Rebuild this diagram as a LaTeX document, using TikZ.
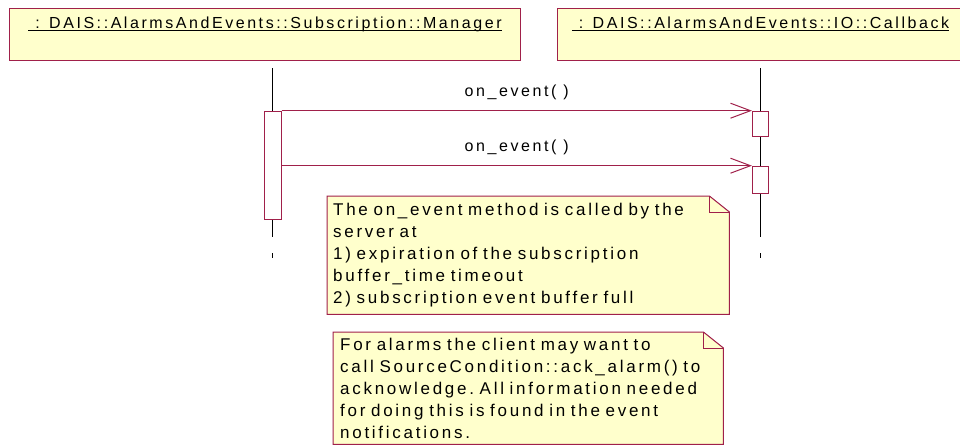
\documentclass[tikz,border=0pt]{standalone}
\usepackage{fontspec}
\newfontfamily\rosefont[LetterSpace=16]{Liberation Sans}
\usetikzlibrary{arrows.meta}
\definecolor{roseline}{HTML}{A0204A}
\definecolor{notefill}{HTML}{FFFFCC}
\newsavebox\namebox
\newcommand{\objname}[1]{\sbox\namebox{#1}\rlap{\rule[-3pt]{\wd\namebox}{0.9pt}}\usebox\namebox}

\begin{document}
\begin{tikzpicture}[
  x=1pt, y=-1pt,
  every node/.style={font=\rosefont\fontsize{16}{22}\selectfont, text=black},
  objbox/.style={draw=roseline, fill=notefill, line width=1pt, inner sep=0pt, text height=19.7pt, text depth=32.3pt, anchor=north west},
  actbar/.style={draw=roseline, fill=white, line width=0.8pt, inner sep=0pt, minimum width=17pt, anchor=north},
  notebox/.style={fill=notefill, inner ysep=0pt, align=left, anchor=north west, font=\rosefont\fontsize{17}{22}\selectfont\frenchspacing},
  noteline/.style={roseline, line width=1pt, line join=miter},
  lifeline/.style={black, line width=0.9pt},
  msg/.style={roseline, line width=1pt, -{Straight Barb[length=20pt, width=15pt]}},
  msglabel/.style={anchor=base, yshift=14.5pt},
]

\useasboundingbox (0,0) rectangle (960,445);
\clip (0,0) rectangle (960,445);

% Objects
\node[objbox, minimum width=511pt] (mgr) at (9,8) {\objname{\ : DAIS::AlarmsAndEvents::Subscription::Manager}};
\node[objbox, minimum width=406pt] (cb) at (557,8) {\objname{\ : DAIS::AlarmsAndEvents::IO::Callback}};

% Lifelines
\coordinate (mgrtop) at (272,68);
\coordinate (mgrend) at (272,237);
\coordinate (mgrtick) at (272,253);
\coordinate (cbtop) at (760.3,68);
\coordinate (cbend) at (760.3,237);
\coordinate (cbtick) at (760.3,253);
\draw[lifeline] (mgrtop) -- (mgrend);
\draw[lifeline] (mgrtick) -- ++(0,5);
\draw[lifeline] (cbtop) -- (cbend);
\draw[lifeline] (cbtick) -- ++(0,5);

% Activations
\node[actbar, minimum height=108pt] (mgract) at (272.6,110.7) {};
\node[actbar, minimum width=16pt, minimum height=25.6pt] (cbact1) at (760.3,110.7) {};
\node[actbar, minimum width=16pt, minimum height=27.3pt] (cbact2) at (760.3,165.7) {};

% Messages
\draw[msg] (mgract.north east) -- node[msglabel] (call1) {on\_event( )} (cbact1.north west);
\draw[msg] (mgract.east |- cbact2.north west) -- node[msglabel] (call2) {on\_event( )} (cbact2.north west);

% Note 1
\node[notebox, minimum width=402pt, minimum height=118pt, text width=390pt, inner xsep=6pt] (note1) at (327,196)
  {The on\_event method is called by the\\ server at\\ 1) expiration of the subscription\\ buffer\_time timeout\\ 2) subscription event buffer full};
\fill[white] ([xshift=-20pt]note1.north east) -- (note1.north east) -- ([yshift=-16pt]note1.north east) -- cycle;
\draw[noteline] (note1.north west) -- ([xshift=-20pt]note1.north east) -- ([yshift=-16pt]note1.north east) -- (note1.south east) -- (note1.south west) -- cycle;
\draw[noteline] ([xshift=-20pt]note1.north east) |- ([yshift=-16pt]note1.north east);

% Note 2
\node[notebox, minimum width=390pt, minimum height=112pt, text width=376pt, inner xsep=7pt] (note2) at (333,332)
  {For alarms the client may want to\\ call SourceCondition::ack\_alarm() to\\ acknowledge. All information needed\\ for doing this is found in the event\\ notifications.};
\fill[white] ([xshift=-20pt]note2.north east) -- (note2.north east) -- ([yshift=-16pt]note2.north east) -- cycle;
\draw[noteline] (note2.north west) -- ([xshift=-20pt]note2.north east) -- ([yshift=-16pt]note2.north east) -- (note2.south east) -- (note2.south west) -- cycle;
\draw[noteline] ([xshift=-20pt]note2.north east) |- ([yshift=-16pt]note2.north east);

\end{tikzpicture}
\end{document}
